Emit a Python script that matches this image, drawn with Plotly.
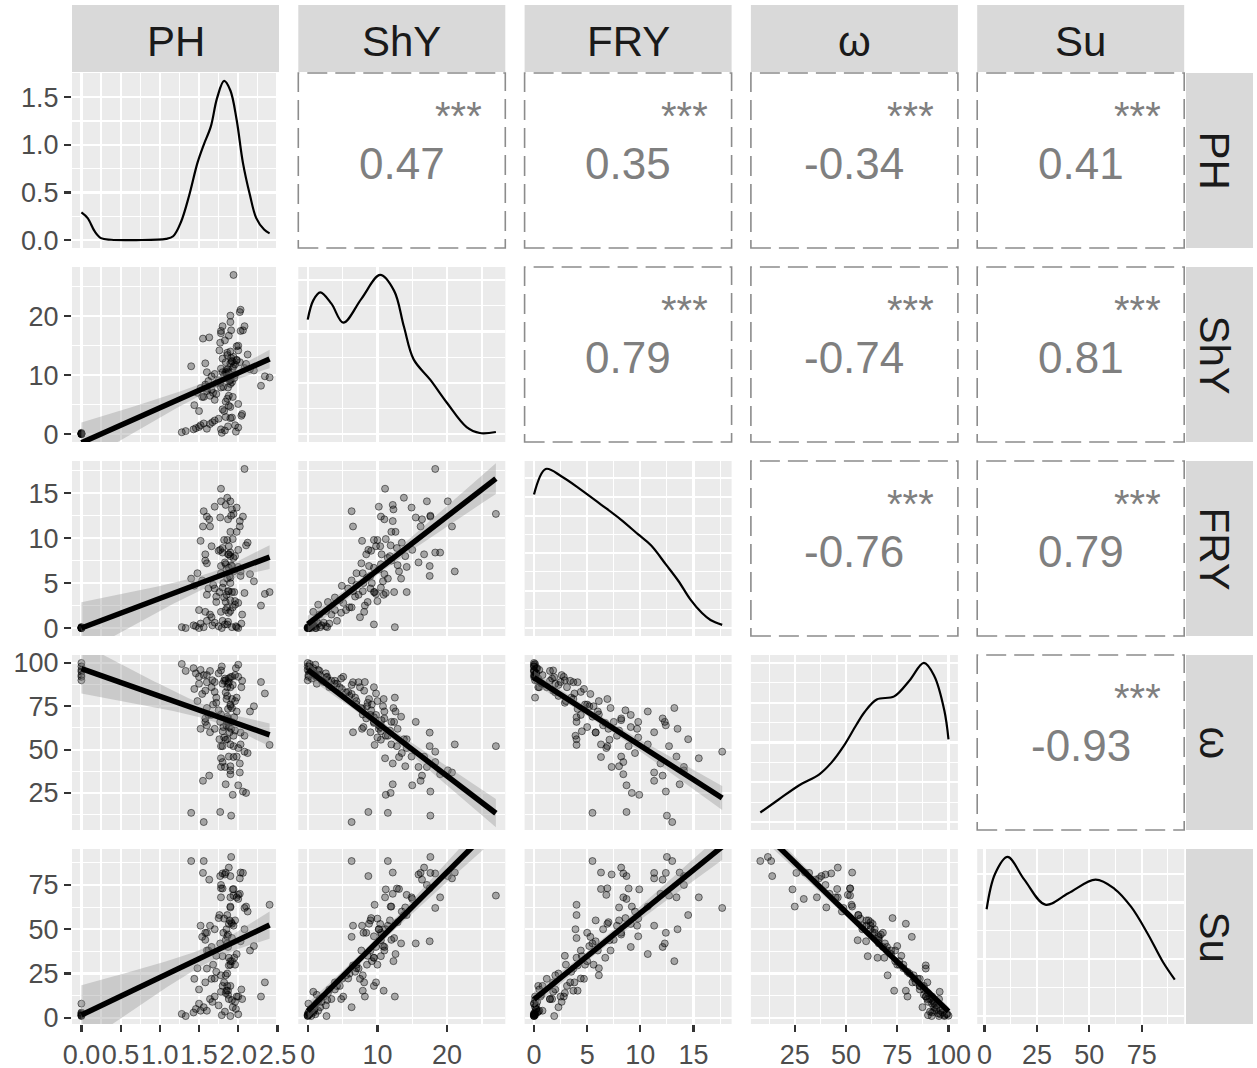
import numpy as np
import plotly.graph_objects as go

# ---------------- data ----------------
var_names = ["PH", "ShY", "FRY", "ω", "Su"]

PH = [0, 0, 0, 0, 0, 0, 0,
      2.08, 1.94, 1.78, 1.86, 1.78, 1.90, 1.70, 1.84, 1.92, 1.98, 1.60, 1.87,
      1.56, 1.91, 1.40, 1.77, 2.02, 1.77, 1.63, 2.06, 1.64, 1.55, 2.02, 1.90,
      1.98, 1.52, 1.86, 1.82, 1.93, 1.88, 1.66, 2.10, 1.80, 1.75, 1.58, 1.96,
      1.90, 2.00, 1.88, 1.80, 1.90, 1.60, 1.92, 1.88, 1.48, 1.78, 1.84, 1.94,
      2.00, 1.86, 1.83, 1.78, 2.03, 2.03, 1.54, 1.68, 1.90, 1.87, 1.62, 1.95,
      1.80, 2.08, 1.92, 1.76, 1.85, 1.44, 1.70, 1.88, 1.60, 1.82, 1.90, 2.00,
      1.86, 1.93, 1.72, 1.58, 1.88, 1.84, 1.96, 1.78, 1.64, 1.90, 2.05, 1.50,
      1.86, 1.98,
      1.28, 1.33, 1.43, 1.46, 1.50, 1.52, 1.56, 1.67, 1.70, 1.75, 1.79, 1.83,
      1.87, 1.92, 1.97, 2.00, 2.04, 1.60,
      1.72, 1.90, 1.84, 2.15, 1.66, 1.96, 1.80, 1.58, 2.40, 2.34, 2.20, 2.29,
      1.85, 1.89, 1.94, 1.81, 1.87, 1.91, 2.12]

ShY = [0.0, 0.0, 0.1, 0.0, 0.2, 0.0, 0.1,
       18.3, 27.0, 11.1, 13.8, 17.1, 20.1, 10.2, 12.2, 12.3, 14.9, 10.5, 11.0,
       6.3, 17.6, 11.5, 8.7, 12.2, 15.5, 16.4, 17.6, 6.5, 16.2, 20.7, 12.0,
       12.6, 7.8, 9.5, 10.0, 11.2, 10.4, 9.8, 11.9, 12.8, 9.1, 8.4, 11.8,
       14.0, 15.0, 16.7, 18.3, 19.0, 7.7, 8.8, 9.5, 7.0, 7.9, 10.5, 13.1,
       14.2, 13.4, 15.9, 17.5, 17.5, 21.1, 6.3, 7.0, 8.5, 7.9, 9.0, 9.5,
       10.5, 11.2, 12.4, 14.2, 10.9, 4.9, 5.8, 6.5, 7.3, 3.9, 4.6, 5.1,
       6.0, 6.3, 8.6, 8.1, 4.8, 2.9, 1.5, 0.8, 1.7, 2.7, 3.4, 3.9,
       9.5, 12.5,
       0.3, 0.5, 0.8, 1.0, 1.2, 1.5, 1.8, 2.0, 2.3, 2.6, 0.2, 0.6,
       1.3, 2.8, 0.4, 1.1, 3.1, 0.9,
       6.8, 9.2, 5.5, 11.0, 7.5, 10.0, 4.2, 12.0, 9.6, 9.8, 10.8, 8.2,
       10.2, 9.0, 11.5, 8.0, 10.6, 12.9, 13.5]

FRY = [0.0, 0.0, 0.0, 0.1, 0.0, 0.0, 0.1,
       17.7, 12.7, 15.5, 14.5, 14.1, 14.1, 13.5, 13.7, 13.2, 13.4, 12.4, 12.1,
       13.0, 12.5, 5.5, 8.7, 11.9, 12.3, 12.1, 12.4, 11.3, 11.3, 11.3, 10.7,
       10.7, 9.7, 9.8, 9.8, 9.9, 9.1, 9.1, 9.2, 8.9, 8.6, 8.2, 8.0,
       8.0, 8.7, 8.2, 8.4, 8.4, 7.2, 6.9, 6.7, 6.1, 6.1, 7.1, 6.3,
       6.8, 5.5, 7.3, 6.9, 5.8, 6.3, 5.3, 4.8, 5.6, 4.1, 4.4, 4.0,
       4.5, 3.9, 4.0, 4.0, 3.7, 4.7, 4.4, 4.1, 3.7, 3.4, 3.1, 2.8,
       2.3, 2.3, 2.9, 1.8, 1.7, 2.9, 2.6, 1.8, 1.5, 1.9, 1.5, 2.0,
       0.4, 0.1,
       0.1, 0.0, 0.3, 0.2, 0.0, 0.5, 0.1, 0.3, 0.6, 0.2, 0.0, 0.4,
       0.7, 0.1, 0.2, 0.0, 0.5, 0.8,
       3.5, 5.0, 2.0, 6.0, 1.2, 3.0, 0.8, 7.5, 4.0, 3.8, 5.2, 2.5,
       6.5, 5.8, 7.8, 5.0, 8.2, 7.0, 9.5]

OMEGA = [100, 96, 93, 90, 95, 98, 92,
         48.8, 52.0, 45.0, 56.0, 40.0, 38.0, 62.0, 30.0, 74.0, 46.0, 64.0, 68.0,
         8.2, 11.9, 13.5, 14.0, 42.0, 66.0, 35.0, 25.8, 60.0, 32.0, 36.8, 53.0,
         72.0, 62.0, 66.0, 57.0, 23.9, 63.0, 70.0, 25.0, 52.0, 72.7, 68.0, 61.0,
         40.4, 29.4, 46.0, 42.8, 35.8, 74.0, 79.2, 65.4, 78.0, 70.3, 55.7, 45.7,
         50.9, 69.0, 40.0, 52.0, 59.8, 53.0, 82.1, 76.0, 75.0, 73.5, 70.0, 68.7,
         60.6, 58.0, 66.0, 56.0, 79.2, 85.0, 83.3, 88.9, 88.9, 89.7, 86.0, 92.0,
         81.0, 87.3, 77.0, 84.0, 91.0, 90.0, 93.0, 95.7, 95.4, 91.8, 89.7, 88.0,
         86.0, 80.0,
         99.4, 95.4, 97.0, 94.0, 92.0, 96.0, 93.0, 90.0, 89.0, 94.0, 98.0, 91.0,
         88.0, 92.0, 97.0, 99.0, 86.0, 93.0,
         80.0, 76.0, 83.0, 72.0, 86.0, 78.0, 88.0, 66.0, 52.7, 82.4, 75.0, 89.0,
         64.0, 60.0, 58.0, 63.0, 67.0, 62.0, 48.0]

Su = [1.2, 2.0, 8.0, 1.5, 2.5, 1.0, 3.0,
      62.0, 69.0, 68.0, 58.0, 75.0, 80.0, 50.0, 82.0, 32.0, 68.0, 48.0, 40.0,
      88.5, 90.8, 88.5, 80.0, 70.0, 42.0, 78.0, 81.8, 52.0, 81.8, 78.7, 62.8,
      36.0, 52.0, 46.0, 56.0, 72.5, 53.0, 40.0, 62.8, 73.0, 56.3, 48.0, 55.0,
      62.3, 67.1, 84.8, 81.5, 68.0, 38.0, 53.1, 33.9, 28.0, 24.0, 43.8, 72.7,
      69.4, 42.0, 80.9, 73.1, 43.2, 82.0, 45.7, 30.0, 30.0, 15.3, 38.0, 33.9,
      34.8, 50.0, 45.0, 58.0, 15.3, 22.0, 22.2, 29.6, 27.8, 20.0, 18.0, 12.0,
      25.0, 6.0, 35.0, 20.0, 10.6, 14.0, 9.0, 14.7, 10.6, 1.0, 10.6, 16.0,
      18.0, 12.0,
      2.2, 1.0, 3.0, 5.0, 8.0, 4.0, 6.0, 9.0, 12.0, 7.0, 1.5, 3.5,
      13.0, 10.0, 5.0, 2.0, 16.0, 4.0,
      26.0, 32.0, 24.0, 38.0, 22.0, 30.0, 18.0, 44.0, 63.8, 20.0, 40.5, 12.0,
      50.0, 55.0, 52.0, 48.0, 47.0, 54.0, 60.0]

# correlation labels of the upper panels (row-major)
corr_values = ["0.47", "0.35", "-0.34", "0.41",
               "0.79", "-0.74", "0.81",
               "-0.76", "0.79",
               "-0.93"]
corr_stars = ["***"] * 10

# density curves of the diagonal panels
dens_x = [
    [0.0, 0.08, 0.17, 0.25, 0.38, 0.7, 1.08, 1.17, 1.27, 1.375, 1.48, 1.56, 1.65, 1.73, 1.82, 1.9, 1.98, 2.06, 2.15, 2.23, 2.33, 2.40],
    [0.0, 0.8, 1.8, 3.4, 5.1, 7.7, 10.4, 12.4, 13.8, 15.2, 17.6, 20.0, 22.8, 24.7, 27.0],
    [0.0, 1.1, 2.6, 4.4, 6.3, 8.2, 9.8, 11.0, 12.4, 13.6, 14.7, 15.8, 16.6, 17.7],
    [8.2, 17.0, 27.0, 37.0, 43.0, 49.0, 55.0, 59.0, 65.0, 73.5, 81.0, 88.0, 93.0, 98.0, 100.0],
    [1.0, 5.0, 11.0, 19.0, 29.0, 40.0, 53.0, 62.0, 70.0, 78.0, 85.0, 90.8],
]
dens_y = [
    [0.29, 0.23, 0.09, 0.02, 0.003, 0.0, 0.013, 0.04, 0.19, 0.47, 0.81, 1.0, 1.19, 1.49, 1.67, 1.57, 1.26, 0.81, 0.47, 0.23, 0.11, 0.07],
    [0.0446, 0.0521, 0.0552, 0.0508, 0.0434, 0.0527, 0.062, 0.0558, 0.0419, 0.0291, 0.0211, 0.0121, 0.0027, 0.0004, 0.0008],
    [0.0714, 0.085, 0.081, 0.074, 0.066, 0.0578, 0.050, 0.0442, 0.034, 0.025, 0.0153, 0.008, 0.0043, 0.0017],
    [0.0012, 0.0028, 0.0046, 0.0060, 0.0075, 0.0096, 0.0122, 0.0138, 0.0154, 0.0158, 0.0178, 0.0200, 0.0184, 0.0140, 0.0104],
    [0.0094, 0.0125, 0.0140, 0.0120, 0.0098, 0.0108, 0.0120, 0.0112, 0.0096, 0.0072, 0.0048, 0.0032],
]
dens_dtick = [0.5, 0.02, 0.02, 0.005, 0.005]

tick_vals = [[0, 0.5, 1.0, 1.5, 2.0, 2.5], [0, 10, 20], [0, 5, 10, 15], [25, 50, 75, 100], [0, 25, 50, 75]]
tick_text = [["0.0", "0.5", "1.0", "1.5", "2.0", "2.5"], ["0", "10", "20"], ["0", "5", "10", "15"],
             ["25", "50", "75", "100"], ["0", "25", "50", "75"]]
minor_step = [0.25, 5, 2.5, 12.5, 12.5]
PH_dens_ticks = [0.0, 0.5, 1.0, 1.5]
PH_dens_text = ["0.0", "0.5", "1.0", "1.5"]

# ---------------- layout geometry ----------------
FW, FH = 1257, 1068
PL, PW, PSX = 72, 207, 226.3
PT, PHT, PSY = 73, 175, 194
FONT = "Liberation Sans, Arial, sans-serif"
T95 = 1.979

arrs = [np.array(v, dtype=float) for v in (PH, ShY, FRY, OMEGA, Su)]
ranges = []
for v in arrs:
    lo, hi = v.min(), v.max()
    pad = 0.05 * (hi - lo)
    ranges.append([lo - pad, hi + pad])


def lm_band(x, y, n=80):
    xm = x.mean()
    sxx = ((x - xm) ** 2).sum()
    b = ((x - xm) * (y - y.mean())).sum() / sxx
    a = y.mean() - b * xm
    res = y - (a + b * x)
    s = np.sqrt((res ** 2).sum() / (len(x) - 2))
    xs = np.linspace(x.min(), x.max(), n)
    fit = a + b * xs
    se = s * np.sqrt(1.0 / len(x) + (xs - xm) ** 2 / sxx)
    return xs, fit, fit - T95 * se, fit + T95 * se


def px(x):
    return x / FW


def py(y):
    return 1 - y / FH


fig = go.Figure()
layout = {}
shapes = []
annotations = []
ci = 0
for i in range(5):
    for j in range(5):
        k = i * 5 + j + 1
        xn = "x" if k == 1 else f"x{k}"
        yn = "y" if k == 1 else f"y{k}"
        xk = "xaxis" if k == 1 else f"xaxis{k}"
        yk = "yaxis" if k == 1 else f"yaxis{k}"
        x0 = PL + j * PSX
        y0 = PT + i * PSY
        xdom = [px(x0), px(x0 + PW)]
        ydom = [py(y0 + PHT), py(y0)]
        bottom = (i == 4)
        left = (j == 0)
        grid = (i >= j)
        common = dict(zeroline=False, showline=False, automargin=False, fixedrange=True,
                      gridcolor="white", gridwidth=2.2, ticklen=7, tickwidth=2.2,
                      tickcolor="#333333", tickangle=0,
                      tickfont=dict(family=FONT, size=27, color="#4D4D4D"))
        xaxis = dict(domain=xdom, anchor=yn, range=ranges[j], showgrid=grid, tickmode="array",
                     tickvals=tick_vals[j], ticktext=tick_text[j], showticklabels=bottom,
                     ticks="outside" if bottom else "",
                     minor=dict(showgrid=grid, gridcolor="white", gridwidth=1.1, tickmode="linear",
                                tick0=0, dtick=minor_step[j], ticks=""), **common)
        if i == j:
            m = max(dens_y[i])
            yr = [-0.05 * m, 1.05 * m]
            if i == 0:
                ytv, ytt = PH_dens_ticks, PH_dens_text
            else:
                ytv = list(np.arange(0, 1.2 * m, dens_dtick[i]))
                ytt = ["" for _ in ytv]
            ymin = dens_dtick[i] / 2
        else:
            yr = ranges[i]
            ytv, ytt = tick_vals[i], tick_text[i]
            ymin = minor_step[i]
        yaxis = dict(domain=ydom, anchor=xn, range=yr, showgrid=grid, tickmode="array",
                     tickvals=ytv, ticktext=ytt, showticklabels=left,
                     ticks="outside" if left else "",
                     minor=dict(showgrid=grid, gridcolor="white", gridwidth=1.1, tickmode="linear",
                                tick0=0, dtick=ymin, ticks=""), **common)
        layout[xk] = xaxis
        layout[yk] = yaxis

        if i >= j:
            shapes.append(dict(type="rect", xref="paper", yref="paper",
                               x0=xdom[0], x1=xdom[1], y0=ydom[0], y1=ydom[1],
                               fillcolor="#EBEBEB", line=dict(width=0), layer="below"))
        if i > j:
            xv, yv = arrs[j], arrs[i]
            fig.add_trace(go.Scatter(x=xv, y=yv, mode="markers", xaxis=xn, yaxis=yn,
                                     marker=dict(size=7, color="rgba(0,0,0,0.30)",
                                                 line=dict(width=1, color="rgba(0,0,0,0.5)")),
                                     hoverinfo="skip"))
            xs, fit, lo, hi = lm_band(xv, yv)
            fig.add_trace(go.Scatter(x=np.concatenate([xs, xs[::-1]]), y=np.concatenate([lo, hi[::-1]]),
                                     mode="lines", fill="toself", fillcolor="rgba(153,153,153,0.4)",
                                     line=dict(width=0), xaxis=xn, yaxis=yn, hoverinfo="skip"))
            fig.add_trace(go.Scatter(x=xs, y=fit, mode="lines", line=dict(color="black", width=5.5),
                                     xaxis=xn, yaxis=yn, hoverinfo="skip"))
        elif i == j:
            fig.add_trace(go.Scatter(x=dens_x[i], y=dens_y[i], mode="lines",
                                     line=dict(color="black", width=2.2, shape="spline", smoothing=1.0),
                                     xaxis=xn, yaxis=yn, hoverinfo="skip"))
        else:
            fig.add_trace(go.Scatter(x=[None], y=[None], mode="markers", xaxis=xn, yaxis=yn,
                                     hoverinfo="skip"))
            shapes.append(dict(type="rect", xref="paper", yref="paper",
                               x0=xdom[0], x1=xdom[1], y0=ydom[0], y1=ydom[1], fillcolor="white",
                               line=dict(color="#8C8C8C", width=1.6, dash="20px,8px")))
            annotations.append(dict(xref="paper", yref="paper", x=px(x0 + PW / 2),
                                    y=py(y0 + PHT * 0.515), text=corr_values[ci], showarrow=False,
                                    xanchor="center", yanchor="middle",
                                    font=dict(family=FONT, size=44, color="#7F7F7F")))
            annotations.append(dict(xref="paper", yref="paper", x=px(x0 + PW - 47),
                                    y=py(y0 + 43), text=corr_stars[ci], showarrow=False,
                                    xanchor="center", yanchor="middle",
                                    font=dict(family=FONT, size=40, color="#7F7F7F")))
            ci += 1

# strips
for j in range(5):
    x0 = PL + j * PSX
    shapes.append(dict(type="rect", xref="paper", yref="paper", x0=px(x0), x1=px(x0 + PW),
                       y0=py(72), y1=py(5), fillcolor="#D9D9D9", line=dict(width=0)))
    annotations.append(dict(xref="paper", yref="paper", x=px(x0 + PW / 2), y=py(42),
                            text=var_names[j], showarrow=False, xanchor="center", yanchor="middle",
                            font=dict(family=FONT, size=42, color="#1A1A1A")))
for i in range(5):
    y0 = PT + i * PSY
    shapes.append(dict(type="rect", xref="paper", yref="paper", x0=px(1186), x1=px(1253),
                       y0=py(y0 + PHT), y1=py(y0), fillcolor="#D9D9D9", line=dict(width=0)))
    annotations.append(dict(xref="paper", yref="paper", x=px(1214), y=py(y0 + PHT / 2),
                            text=var_names[i], showarrow=False, textangle=90,
                            xanchor="center", yanchor="middle",
                            font=dict(family=FONT, size=42, color="#1A1A1A")))

fig.update_layout(template="none", width=FW, height=FH, margin=dict(l=0, r=0, t=0, b=0, autoexpand=False),
                  paper_bgcolor="white", plot_bgcolor="rgba(0,0,0,0)", showlegend=False,
                  shapes=shapes, annotations=annotations, font=dict(family=FONT), **layout)
fig.write_html("out.html", config={"displayModeBar": False, "staticPlot": True},
               post_script="document.body.style.margin='0px';document.body.style.overflow='hidden';")
